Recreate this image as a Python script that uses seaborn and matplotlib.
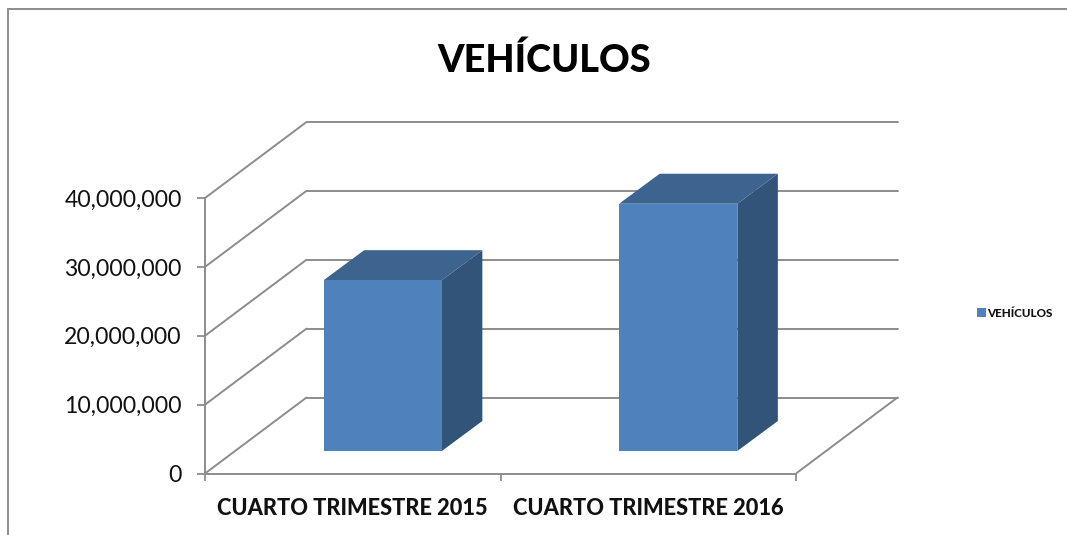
import matplotlib
matplotlib.use("Agg")
import matplotlib.pyplot as plt
from matplotlib.patches import Polygon
from matplotlib.transforms import Affine2D
from matplotlib.lines import Line2D
import seaborn as sns
import pandas as pd

categories = ["CUARTO TRIMESTRE 2015", "CUARTO TRIMESTRE 2016"]
values = [24800000, 35900000]
series_name = "VEHÍCULOS"
yticks = [0, 10000000, 20000000, 30000000, 40000000]

W, H = 1067, 535
sns.set_theme(style="white")
plt.rcParams["font.family"] = ["Lato", "DejaVu Sans"]
fig = plt.figure(figsize=(W / 100, H / 100), dpi=100)
ax = fig.add_axes([205 / W, 1 - 473.5 / H, (796 - 205) / W, (473.5 - 198) / H])
ax.patch.set_alpha(0)

df = pd.DataFrame({"periodo": categories, "valor": values})
sns.barplot(data=df, x="periodo", y="valor", color="#4F81BD", saturation=1,
            width=0.40, ax=ax, zorder=5, edgecolor="none", linewidth=0)
ax.set_xlim(-0.5, 1.5)
ax.set_ylim(0, 40000000)
ax.set_xlabel("")
ax.set_ylabel("")
ax.set_yticks(yticks)
ax.set_yticklabels([f"{v:,}" for v in yticks], fontsize=16.6, color="#111111")
ax.set_xticks([-0.5, 0.5, 1.5], minor=True)
ax.set_xticks([0, 1])
ax.set_xticklabels(categories, fontsize=15.7, fontweight="black", color="#111111")
ax.tick_params(axis="x", which="major", length=0, pad=17.5)
ax.tick_params(axis="x", which="minor", length=5, width=1.3, color="#8C8C8C", bottom=True)
ax.tick_params(axis="y", length=5.8, width=1.3, color="#8C8C8C", left=True, pad=11)
for s in ["top", "right"]:
    ax.spines[s].set_visible(False)
for s in ["left", "bottom"]:
    ax.spines[s].set_color("#8C8C8C")
    ax.spines[s].set_linewidth(1.4)

# depth geometry, in display pixels (the figure is drawn at 100 dpi)
DX, DY = 101.5, 76      # full floor depth
BX, BY = 30, 22.5       # bar front face offset from the front plane
bar_dx, bar_dy = 40.5, 30  # bar depth

grid_color = "#8C8C8C"
back = ax.transData + Affine2D().translate(DX, DY)
for v in yticks:
    ax.plot([-0.5, 1.5], [v, v], color=grid_color, lw=1.4, transform=back,
            clip_on=False, zorder=1)
    x0, y0 = ax.transData.transform((-0.5, v))
    ax.add_line(Line2D([x0, x0 + DX], [y0, y0 + DY], color=grid_color, lw=1.4,
                       transform=Affine2D(), clip_on=False, zorder=1))
x0, y0 = ax.transData.transform((1.5, 0))
ax.add_line(Line2D([x0, x0 + DX], [y0, y0 + DY], color=grid_color, lw=1.4,
                   transform=Affine2D(), clip_on=False, zorder=1))

# shift bars to mid depth and extrude
front = ax.transData + Affine2D().translate(BX, BY)
for p in list(ax.patches):
    xa, w, h = p.get_x(), p.get_width(), p.get_height()
    p.set_transform(front)
    p.set_clip_on(False)
    (lx, by), (rx, ty) = front.transform([(xa, 0), (xa + w, h)])
    ax.add_patch(Polygon([(rx, by), (rx + bar_dx, by + bar_dy), (rx + bar_dx, ty + bar_dy), (rx, ty)],
                         closed=True, fc="#325479", ec="none", transform=Affine2D(),
                         clip_on=False, zorder=4))
    ax.add_patch(Polygon([(lx, ty), (rx, ty), (rx + bar_dx, ty + bar_dy), (lx + bar_dx, ty + bar_dy)],
                         closed=True, fc="#3D648F", ec="none", transform=Affine2D(),
                         clip_on=False, zorder=4))

fig.text(544.5 / W, 1 - 60 / H, series_name, fontsize=27.3, fontweight="black",
         color="black", ha="center", va="center")

# legend
fig.legend([plt.Rectangle((0, 0), 1, 1, fc="#4F81BD", ec="none")], [series_name],
           loc="center left", bbox_to_anchor=(977 / W, 1 - 313.5 / H), frameon=False,
           prop={"size": 8.4, "weight": "black"}, handlelength=0.8, handleheight=0.8,
           handletextpad=0.1, borderpad=0, borderaxespad=0, labelcolor="#111111")

# chart area frame: left and top edges only
fig.add_artist(Line2D([7.5 / W, 7.5 / W], [0, 1 - 9 / H], color="#8C8C8C", lw=1.4))
fig.add_artist(Line2D([7.5 / W, 1], [1 - 9 / H, 1 - 9 / H], color="#8C8C8C", lw=1.4))

fig.savefig("out.png", dpi=100)
